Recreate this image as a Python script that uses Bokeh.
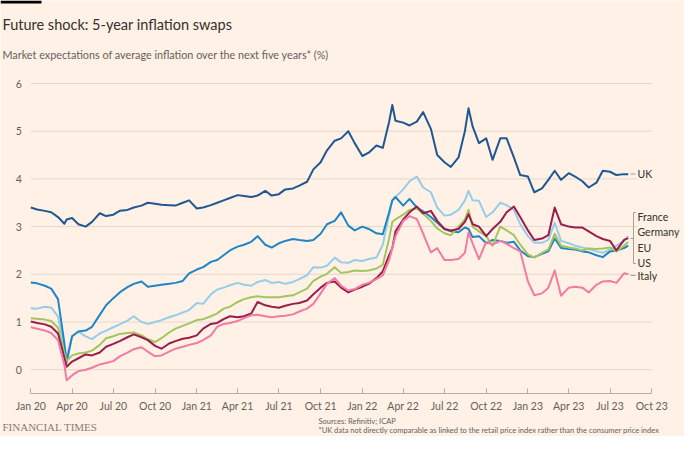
import pandas as pd
from bokeh.plotting import figure
from bokeh.models import ColumnDataSource, Range1d, FixedTicker, DatetimeTickFormatter, Label
from bokeh.embed import file_html
from bokeh.resources import INLINE

# ---------------- data ----------------
dates = [
    "2020-01-01", "2020-01-15", "2020-02-01", "2020-02-15", "2020-03-01", "2020-03-15", "2020-03-20",
    "2020-04-01", "2020-04-15", "2020-05-01", "2020-05-15", "2020-06-01", "2020-06-15", "2020-07-01",
    "2020-07-15", "2020-08-01", "2020-08-15", "2020-09-01", "2020-09-15", "2020-10-01", "2020-10-15",
    "2020-11-01", "2020-11-15", "2020-12-01", "2020-12-15", "2021-01-01", "2021-01-15", "2021-02-01",
    "2021-02-15", "2021-03-01", "2021-03-15", "2021-04-01", "2021-04-15", "2021-05-01", "2021-05-15",
    "2021-06-01", "2021-06-15", "2021-07-01", "2021-07-15", "2021-08-01", "2021-08-15", "2021-09-01",
    "2021-09-15", "2021-10-01", "2021-10-15", "2021-11-01", "2021-11-15", "2021-12-01", "2021-12-15",
    "2022-01-01", "2022-01-15", "2022-02-01", "2022-02-15", "2022-03-01", "2022-03-08", "2022-03-15",
    "2022-04-01", "2022-04-15", "2022-05-01", "2022-05-15", "2022-06-01", "2022-06-15", "2022-07-01",
    "2022-07-15", "2022-08-01", "2022-08-15", "2022-08-23", "2022-09-01", "2022-09-15", "2022-10-01",
    "2022-10-15", "2022-11-01", "2022-11-15", "2022-12-01", "2022-12-15", "2023-01-01", "2023-01-15",
    "2023-02-01", "2023-02-15", "2023-03-01", "2023-03-15", "2023-04-01", "2023-04-15", "2023-05-01",
    "2023-05-15", "2023-06-01", "2023-06-15", "2023-07-01", "2023-07-15", "2023-08-01", "2023-08-10",
]

uk = [
    3.40, 3.36, 3.33, 3.30, 3.20, 3.06, 3.15, 3.18, 3.05, 3.00, 3.10, 3.28, 3.22, 3.25,
    3.33, 3.35, 3.40, 3.44, 3.50, 3.48, 3.46, 3.45, 3.44, 3.50, 3.55, 3.38, 3.40, 3.45,
    3.50, 3.55, 3.60, 3.66, 3.64, 3.62, 3.65, 3.75, 3.65, 3.68, 3.78, 3.80, 3.86, 3.94,
    4.20, 4.35, 4.60, 4.80, 4.85, 5.00, 4.75, 4.48, 4.55, 4.70, 4.65, 5.20, 5.55, 5.22,
    5.18, 5.12, 5.20, 5.40, 5.05, 4.50, 4.35, 4.25, 4.45, 5.00, 5.48, 5.10, 4.75, 4.85,
    4.40, 4.85, 4.85, 4.45, 4.08, 4.05, 3.72, 3.80, 3.98, 4.17, 3.98, 4.12, 4.05, 3.95,
    3.82, 3.92, 4.17, 4.15, 4.08, 4.10, 4.10,
]
us = [
    1.83, 1.81, 1.76, 1.70, 1.48, 0.55, 0.15, 0.70, 0.80, 0.82, 0.90, 1.15, 1.35, 1.50,
    1.62, 1.73, 1.80, 1.85, 1.74, 1.76, 1.78, 1.80, 1.82, 1.86, 2.02, 2.10, 2.15, 2.26,
    2.30, 2.40, 2.50, 2.58, 2.62, 2.68, 2.80, 2.62, 2.56, 2.65, 2.70, 2.74, 2.72, 2.70,
    2.72, 2.85, 3.05, 3.12, 3.30, 3.02, 2.92, 3.00, 2.95, 2.86, 2.84, 3.30, 3.55, 3.62,
    3.44, 3.58, 3.40, 3.32, 3.20, 3.08, 2.95, 2.90, 2.88, 2.98, 2.95, 2.78, 2.80, 2.65,
    2.72, 2.70, 2.66, 2.68, 2.50, 2.38, 2.36, 2.43, 2.48, 2.75, 2.55, 2.53, 2.52, 2.48,
    2.46, 2.40, 2.36, 2.48, 2.50, 2.55, 2.60,
]
france = [
    1.29, 1.28, 1.32, 1.30, 1.12, 0.45, 0.26, 0.70, 0.80, 0.70, 0.64, 0.76, 0.82, 0.89,
    0.95, 1.03, 1.12, 1.00, 0.96, 1.00, 1.04, 1.10, 1.14, 1.20, 1.25, 1.40, 1.38, 1.58,
    1.68, 1.72, 1.77, 1.82, 1.78, 1.76, 1.84, 1.88, 1.82, 1.84, 1.80, 1.84, 1.90, 1.98,
    2.15, 2.14, 2.18, 2.35, 2.25, 2.24, 2.30, 2.28, 2.32, 2.35, 2.62, 3.25, 3.55, 3.62,
    3.78, 3.95, 4.05, 3.82, 3.72, 3.40, 3.23, 3.25, 3.35, 3.55, 3.75, 3.55, 3.54, 3.20,
    3.30, 3.50, 3.45, 3.35, 3.05, 2.80, 2.66, 2.66, 2.72, 3.08, 2.70, 2.65, 2.60, 2.56,
    2.53, 2.48, 2.45, 2.52, 2.60, 2.70, 2.80,
]
eu = [
    1.08, 1.07, 1.05, 1.02, 0.88, 0.35, 0.18, 0.30, 0.34, 0.36, 0.40, 0.52, 0.66, 0.70,
    0.75, 0.77, 0.78, 0.72, 0.64, 0.58, 0.66, 0.78, 0.86, 0.92, 0.97, 1.04, 1.06, 1.12,
    1.18, 1.28, 1.32, 1.42, 1.48, 1.52, 1.54, 1.52, 1.52, 1.52, 1.54, 1.56, 1.62, 1.70,
    1.86, 1.95, 2.01, 2.15, 2.03, 2.05, 2.08, 2.07, 2.08, 2.12, 2.20, 2.75, 3.10, 3.15,
    3.25, 3.35, 3.38, 3.27, 3.12, 2.96, 2.86, 2.82, 3.00, 3.15, 3.35, 3.00, 2.90, 2.80,
    2.60, 3.00, 2.92, 2.82, 2.62, 2.42, 2.35, 2.45, 2.52, 2.85, 2.60, 2.56, 2.54, 2.50,
    2.54, 2.53, 2.54, 2.56, 2.48, 2.60, 2.68,
]
germany = [
    1.01, 0.98, 0.95, 0.90, 0.76, 0.25, 0.06, 0.17, 0.24, 0.32, 0.30, 0.36, 0.48, 0.54,
    0.60, 0.68, 0.74, 0.68, 0.62, 0.50, 0.44, 0.55, 0.60, 0.65, 0.67, 0.72, 0.86, 0.96,
    0.98, 1.06, 1.12, 1.10, 1.12, 1.18, 1.42, 1.35, 1.32, 1.30, 1.34, 1.38, 1.40, 1.45,
    1.58, 1.72, 1.82, 1.85, 1.72, 1.62, 1.68, 1.74, 1.80, 1.92, 2.06, 2.40, 2.55, 2.90,
    3.15, 3.30, 3.42, 3.28, 3.33, 3.12, 2.95, 2.92, 2.95, 3.10, 3.26, 3.05, 3.00, 2.80,
    2.95, 3.10, 3.30, 3.42, 3.20, 2.92, 2.72, 2.75, 2.82, 3.40, 3.05, 3.00, 2.98, 2.98,
    2.90, 2.80, 2.74, 2.70, 2.50, 2.72, 2.76,
]
italy = [
    0.89, 0.86, 0.82, 0.77, 0.62, 0.10, -0.22, -0.12, -0.03, 0.00, 0.04, 0.11, 0.14, 0.18,
    0.28, 0.36, 0.43, 0.47, 0.38, 0.28, 0.30, 0.38, 0.44, 0.48, 0.52, 0.56, 0.62, 0.72,
    0.90, 0.96, 0.98, 1.02, 1.08, 1.14, 1.15, 1.12, 1.10, 1.12, 1.13, 1.16, 1.22, 1.28,
    1.38, 1.60, 1.80, 1.92, 1.76, 1.66, 1.69, 1.78, 1.82, 1.90, 1.98, 2.30, 2.55, 2.80,
    3.12, 3.22, 3.16, 2.85, 2.46, 2.55, 2.30, 2.30, 2.32, 2.45, 2.88, 2.65, 2.32, 2.68,
    2.62, 2.70, 2.64, 2.55, 2.48, 1.85, 1.56, 1.60, 1.72, 2.08, 1.55, 1.72, 1.74, 1.72,
    1.62, 1.78, 1.85, 1.86, 1.82, 2.02, 2.00,
]

x_tick_dates = [
    "2020-01-01", "2020-04-01", "2020-07-01", "2020-10-01", "2021-01-01", "2021-04-01",
    "2021-07-01", "2021-10-01", "2022-01-01", "2022-04-01", "2022-07-01", "2022-10-01",
    "2023-01-01", "2023-04-01", "2023-07-01", "2023-10-01",
]
y_ticks = [0, 1, 2, 3, 4, 5, 6]
y_axis_floor = -0.5

# draw order (back to front) and colours
series = [
    ("france", france, "#96cde8"),
    ("us", us, "#1f86c6"),
    ("eu", eu, "#a2c65c"),
    ("germany", germany, "#9b1d4c"),
    ("italy", italy, "#f27ba2"),
    ("uk", uk, "#1f5791"),
]
label_texts = ["UK", "France", "Germany", "EU", "US", "Italy"]

title_text = "Future shock: 5-year inflation swaps"
subtitle_text = "Market expectations of average inflation over the next five years* (%)"
source_text = "Sources: Refinitiv; ICAP"
note_text = "*UK data not directly comparable as linked to the retail price index rather than the consumer price index"
brand_text = "FINANCIAL TIMES"

# ---------------- styling / geometry (canvas px) ----------------
BG = "#fff1e5"
W, H = 684, 436
PLOT_LEFT = 30.3        # px of the first x tick
PX_PER_DAY = 0.4536
PX_PER_UNIT = 47.7
Y6_PX = 83.0            # px of the "6" grid line

FONT = "Lato"
TEXT_DARK = "#33302e"
TEXT_MID = "#66605c"

x_start = pd.Timestamp(x_tick_dates[0]) - pd.Timedelta(days=PLOT_LEFT / PX_PER_DAY)
x_end = x_start + pd.Timedelta(days=W / PX_PER_DAY)
y_top = 6 + Y6_PX / PX_PER_UNIT
y_bottom = y_top - H / PX_PER_UNIT


def X(px):
    return (x_start + pd.Timedelta(days=px / PX_PER_DAY)).value / 1e6


def Y(py):
    return y_top - py / PX_PER_UNIT


df = pd.DataFrame({"date": pd.to_datetime(dates)})
for name, vals, _ in series:
    df[name] = vals
src = ColumnDataSource(df)

p = figure(
    width=W, height=H,
    x_axis_type="datetime",
    x_range=Range1d(x_start, x_end),
    y_range=Range1d(y_bottom, y_top),
    output_backend="svg", toolbar_location=None,
    background_fill_color=BG, border_fill_color=BG,
    outline_line_color=None, min_border=0,
)
p.xgrid.visible = False
p.ygrid.visible = False

# y axis drawn at the left edge of the plotting area
p.yaxis.fixed_location = pd.Timestamp(x_tick_dates[0]).value / 1e6
p.yaxis.ticker = FixedTicker(ticks=y_ticks)
p.yaxis.axis_line_color = None
p.yaxis.major_tick_line_color = None
p.yaxis.major_tick_out = 0
p.yaxis.major_tick_in = 0
p.yaxis.minor_tick_line_color = None
p.yaxis.major_label_standoff = 9
p.yaxis.major_label_text_font = FONT
p.yaxis.major_label_text_font_size = "10.5px"
p.yaxis.major_label_text_color = TEXT_MID

# x axis drawn at the bottom of the plotting area
tick_ms = [pd.Timestamp(d).value / 1e6 for d in x_tick_dates]
p.xaxis.fixed_location = y_axis_floor
p.xaxis.ticker = FixedTicker(ticks=tick_ms)
p.xaxis.formatter = DatetimeTickFormatter(days="%b %y", months="%b %y", years="%b %y")
p.xaxis.bounds = (tick_ms[0], tick_ms[-1])
p.xaxis.axis_line_color = "#b9aea4"
p.xaxis.major_tick_line_color = "#b9aea4"
p.xaxis.major_tick_in = 5
p.xaxis.major_tick_out = 0
p.xaxis.minor_tick_line_color = None
p.xaxis.major_label_standoff = 6
p.xaxis.major_label_text_font = FONT
p.xaxis.major_label_text_font_size = "10.5px"
p.xaxis.major_label_text_color = TEXT_MID

# horizontal grid lines ending at the last tick
grid_src = ColumnDataSource(dict(
    x0=[pd.Timestamp(x_tick_dates[0])] * len(y_ticks),
    x1=[pd.Timestamp(x_tick_dates[-1])] * len(y_ticks),
    y=y_ticks,
))
p.segment(x0="x0", y0="y", x1="x1", y1="y", source=grid_src, line_color="#e4d8cd", line_width=1)

# series
for name, _, color in series:
    p.line(x="date", y=name, source=src, line_color=color, line_width=2, line_join="round")

# end-label leaders and bracket
LEAD = "#a89f97"
p.segment(x0=[X(630), X(630)], y0=[Y(173.5), Y(275)], x1=[X(635), X(635)], y1=[Y(173.5), Y(275)],
          line_color=LEAD, line_width=1)
p.multi_line(xs=[[X(635.5), X(633), X(633), X(635.5)], [X(630), X(633)]],
             ys=[[Y(212), Y(212), Y(263), Y(263)], [Y(238), Y(238)]],
             line_color=LEAD, line_width=1)

label_y = [173.5, 216, 231.5, 247, 262, 275]
for txt, ly in zip(label_texts, label_y):
    p.add_layout(Label(x=X(637), y=Y(ly), text=txt, text_font=FONT, text_font_size="10.5px",
                       text_color=TEXT_DARK, text_baseline="middle", text_align="left",
                       background_fill_color=BG))

# header
p.quad(left=[X(0)], right=[X(41)], top=[Y(0)], bottom=[Y(3)], fill_color="#000000", line_color=None)
p.add_layout(Label(x=X(2), y=Y(24), text=title_text, text_font=FONT, text_font_size="14.5px",
                   text_color=TEXT_DARK, text_baseline="alphabetic"))
p.add_layout(Label(x=X(2), y=Y(54), text=subtitle_text, text_font=FONT, text_font_size="10.8px",
                   text_color=TEXT_MID, text_baseline="alphabetic"))

# footer
p.add_layout(Label(x=X(2), y=Y(426), text=brand_text, text_font="Liberation Serif",
                   text_font_size="11px", text_color="#857d77", text_baseline="alphabetic"))
p.add_layout(Label(x=X(318), y=Y(421), text=source_text, text_font=FONT, text_font_size="7.5px",
                   text_color=TEXT_MID, text_baseline="alphabetic"))
p.add_layout(Label(x=X(318), y=Y(430), text=note_text, text_font=FONT, text_font_size="7.5px",
                   text_color=TEXT_MID, text_baseline="alphabetic"))

open("out.html", "w").write(file_html(p, INLINE))
